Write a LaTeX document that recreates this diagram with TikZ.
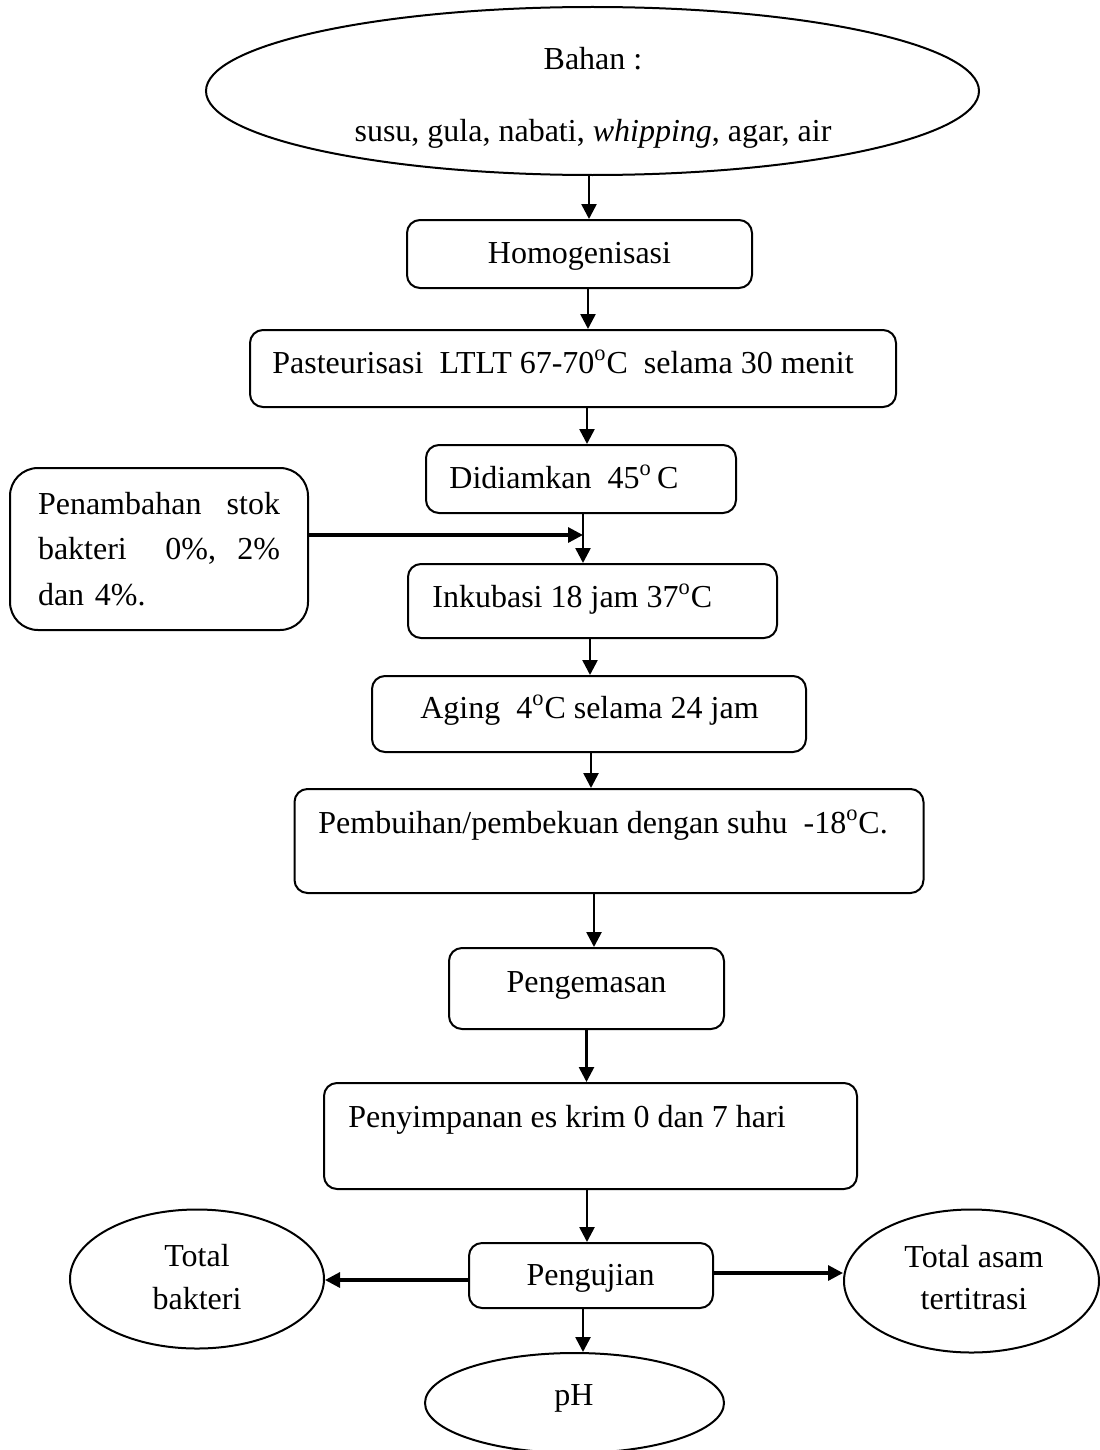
\documentclass[tikz,border=0pt]{standalone}
\usepackage{fontspec}
\setmainfont{Liberation Serif}
\usetikzlibrary{shapes.geometric,arrows.meta}

\begin{document}
\begin{tikzpicture}[x=0.5pt,y=-0.5pt,
  proses/.style={draw,line width=1pt,rounded corners=6.5pt,inner sep=0pt},
  bulat/.style={draw,ellipse,line width=1pt,inner sep=0pt},
  teks/.style={inner sep=0pt,anchor=base},
  teksk/.style={inner sep=0pt,anchor=base west},
  arus/.style={line width=1.3pt,-{Triangle[length=7.5pt,width=7.5pt]}},
  samping/.style={arus,line width=1.6pt},
  every node/.append style={font=\fontsize{16}{19}\selectfont}]
  \useasboundingbox (0,0) rectangle (1099,1450);

  % bentuk
  \node[bulat,minimum width=386.5pt,minimum height=84pt] (bahan) at (592.5,91) {};
  \node[proses,minimum width=172.5pt,minimum height=34pt] (homog) at (579.5,254) {};
  \node[proses,minimum width=323pt,minimum height=38.5pt] (past) at (573,368.5) {};
  \node[proses,minimum width=155pt,minimum height=34pt] (diam) at (581,479) {};
  \node[proses,rounded corners=14pt,minimum width=149pt,minimum height=81pt,text width=121pt,align=left] (stok) at (159,549)
    {Penambahan\hfill stok\\[3.75pt]bakteri\hfill 0\%,\ \ 2\%\\[3.75pt]dan 4\%.};
  \node[proses,minimum width=184.5pt,minimum height=37pt] (inkub) at (592.5,601) {};
  \node[proses,minimum width=217pt,minimum height=38pt] (aging) at (589,714) {};
  \node[proses,minimum width=314.5pt,minimum height=52pt] (pemb) at (609,841) {};
  \node[proses,minimum width=137.5pt,minimum height=40.5pt] (kemas) at (586.5,988.5) {};
  \node[proses,minimum width=266.5pt,minimum height=53pt] (simpan) at (590.5,1136) {};
  \node[proses,minimum width=122pt,minimum height=32.5pt] (uji) at (591,1275.5) {};
  \node[bulat,minimum width=127pt,minimum height=69.5pt] (tb) at (197,1279) {};
  \node[bulat,minimum width=127.5pt,minimum height=71.5pt] (ta) at (971.5,1281) {};
  \node[bulat,minimum width=149.5pt,minimum height=50pt] (ph) at (574.5,1403) {};

  % teks
  \node[teks] (tbahan) at (593,70) {Bahan :};
  \node[teks] (tisi) at (593,141) {susu, gula, nabati, \textit{whipping}, agar, air};
  \node[teks] (thomog) at (579.5,263) {Homogenisasi};
  \node[teksk] (tpast) at (272,373) {Pasteurisasi\ \ LTLT 67-70\textsuperscript{o}C\ \ selama 30 menit};
  \node[teksk] (tdiam) at (449,488) {Didiamkan\ \ 45\textsuperscript{o}\,C};
  \node[teksk] (tinkub) at (432,607) {Inkubasi 18 jam 37\textsuperscript{o}C};
  \node[teks] (taging) at (589.5,718) {Aging\ \ 4\textsuperscript{o}C selama 24 jam};
  \node[teksk] (tpemb) at (318,833) {Pembuihan/pembekuan dengan suhu\ \ -18\textsuperscript{o}C.};
  \node[teks] (tkemas) at (586.5,992) {Pengemasan};
  \node[teksk] (tsimpan) at (348,1127) {Penyimpanan es krim 0 dan 7 hari};
  \node[teks] (tuji) at (590.5,1285) {Pengujian};
  \node[teks] (ttb1) at (197,1266) {Total};
  \node[teks] (ttb2) at (197,1309) {bakteri};
  \node[teks] (tta1) at (974,1267) {Total asam};
  \node[teks] (tta2) at (974,1309) {tertitrasi};
  \node[teks] (tph) at (574,1405) {pH};

  % panah
  \coordinate (a1) at ([xshift=-1.75pt]bahan.south);
  \coordinate (a2) at ([xshift=4.25pt]homog.south);
  \coordinate (a3) at ([xshift=7pt]past.south);
  \coordinate (a4) at ([xshift=1pt]diam.south);
  \coordinate (a5) at ([xshift=-1.25pt]inkub.south);
  \coordinate (a6) at ([xshift=1pt]aging.south);
  \coordinate (a7) at ([xshift=-7.5pt]pemb.south);
  \coordinate (a9) at ([xshift=-1.75pt]simpan.south);
  \coordinate (a10) at ([xshift=-4pt]uji.south);
  \coordinate (s1) at ([yshift=7pt]stok.east);
  \coordinate (u1) at ([yshift=-2.25pt]uji.west);
  \coordinate (u2) at ([yshift=1.25pt]uji.east);
  \draw[arus] (a1) -- (a1 |- homog.north);
  \draw[arus] (a2) -- (a2 |- past.north);
  \draw[arus] (a3) -- (a3 |- diam.north);
  \draw[arus] (a4) -- (a4 |- inkub.north);
  \draw[samping] (s1) -- (s1 -| a4);
  \draw[arus] (a5) -- (a5 |- aging.north);
  \draw[arus] (a6) -- (a6 |- pemb.north);
  \draw[arus] (a7) -- (a7 |- kemas.north);
  \draw[arus] (kemas.south) -- (kemas.south |- simpan.north);
  \draw[arus] (a9) -- (a9 |- uji.north);
  \draw[arus] (a10) -- (a10 |- ph.north);
  \draw[samping] (u1) -- (u1 -| tb.east);
  \draw[samping] (u2) -- (u2 -| ta.west);
\end{tikzpicture}
\end{document}
